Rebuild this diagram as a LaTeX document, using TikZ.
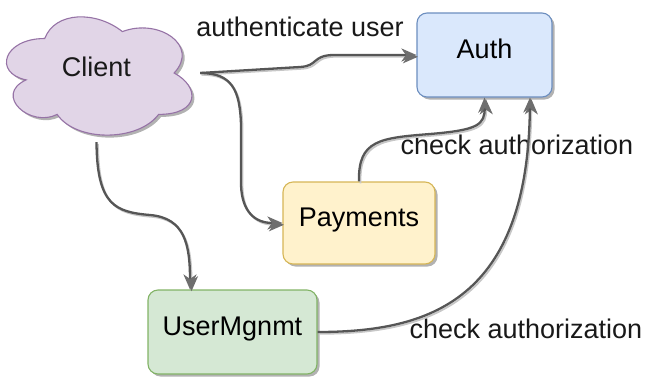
\documentclass[tikz,border=0pt]{standalone}
\usepackage{fontspec}
\setmainfont{Liberation Sans}
\usetikzlibrary{arrows.meta,shadows}
\definecolor{cloudfill}{HTML}{E1D5E7}
\definecolor{cloudline}{HTML}{9673A6}
\definecolor{authfill}{HTML}{DAE8FC}
\definecolor{authline}{HTML}{6C8EBF}
\definecolor{payfill}{HTML}{FFF2CC}
\definecolor{payline}{HTML}{D6B656}
\definecolor{umfill}{HTML}{D5E8D4}
\definecolor{umline}{HTML}{82B366}
\definecolor{edgecol}{HTML}{565656}
\definecolor{tipcol}{HTML}{6E6E6E}
\tikzset{
  shadowed/.style={drop shadow={shadow xshift=2.5pt,shadow yshift=-2.5pt,opacity=0.3,fill=black}},
  svcbox/.style={draw, rounded corners=10pt, line width=1.1pt, shadowed,
    text height=0.9em, text depth=0.21em, inner sep=0pt},
  lbl/.style={inner sep=0pt, text height=0.9em, text depth=0.21em, text=black!90},
  edge/.style={draw=edgecol, line width=2.3pt,
    -{Stealth[length=15pt,width=13pt,inset=4.5pt,color=tipcol]},
    preaction={draw=black!22, line width=1.8pt, transform canvas={xshift=1.5pt,yshift=-1.8pt}}},
}
\begin{document}
\begin{tikzpicture}[x=1pt,y=-1pt,font=\fontsize{27}{32}\selectfont]
\useasboundingbox (0,0) rectangle (646,376);
% cloud
\begin{scope}[shift={(-7,4)},x=207pt,y=-138pt]
\path[draw=cloudline, fill=cloudfill, line width=1.1pt, shadowed]
  (0.25,0.25) .. controls (0.05,0.25) and (0,0.5) .. (0.16,0.55)
  .. controls (0,0.66) and (0.18,0.9) .. (0.31,0.8)
  .. controls (0.4,1) and (0.7,1) .. (0.8,0.8)
  .. controls (1,0.8) and (1,0.6) .. (0.875,0.5)
  .. controls (1,0.3) and (0.8,0.1) .. (0.625,0.2)
  .. controls (0.5,0.05) and (0.3,0.05) .. (0.25,0.25) -- cycle;
\end{scope}
\node[lbl, minimum width=207pt, minimum height=138pt] (client) at (96.5,73) {Client};
\node[svcbox, fill=authfill, draw=authline, minimum width=135pt, minimum height=84pt] (auth) at (484.5,55) {Auth};
\node[svcbox, fill=payfill, draw=payline, minimum width=152pt, minimum height=82pt] (pay) at (359,223) {Payments};
\node[svcbox, fill=umfill, draw=umline, minimum width=169pt, minimum height=84pt] (um) at (232.5,332) {UserMgnmt};
% labels
\node[lbl] (l1) at (300,33) {authenticate user};
\node[lbl] (l2) at (517,151) {check authorization};
\node[lbl] (l3) at (526,335) {check authorization};
% edges
\draw[edge] (client.east) -- (300,67) .. controls (318,66) and (312,56) .. (332,55) -- (auth.west);
\draw[edge] (client.east) .. controls (232,73) and (240,90) .. (241,125) -- (241,185) .. controls (242,212) and (255,223) .. (pay.west);
\draw[edge] (client.south) .. controls (97,205) and (115,212) .. (150,215) .. controls (185,218) and (190,245) .. ([xshift=-42.5pt]um.north);
\draw[edge] (pay.north) .. controls (358,140) and (380,138) .. (430,134) .. controls (478,130) and (485,125) .. (auth.south);
\draw[edge] (um.east) .. controls (430,332) and (528,300) .. ([xshift=45.5pt]auth.south);
\end{tikzpicture}
\end{document}
